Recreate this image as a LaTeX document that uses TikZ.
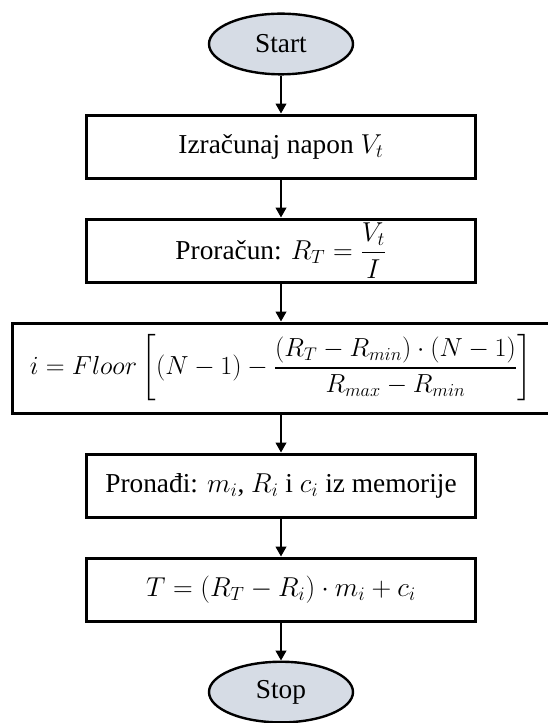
\documentclass[tikz,border=0pt]{standalone}
\usepackage{fix-cm}
\usepackage{amsmath}
\usepackage{fontspec}
\setmainfont{Liberation Serif}
\usepackage{tikz}
\usetikzlibrary{arrows.meta}
\usetikzlibrary{positioning, shapes.geometric}
\definecolor{termfill}{HTML}{D6DCE5}

\begin{document}
\begin{tikzpicture}[
    node distance=28.5pt,
    every node/.style={font=\fontsize{20.5}{24}\selectfont},
    terminal/.style={ellipse, draw, line width=1.8pt, fill=termfill,
        minimum width=108pt, minimum height=45.5pt, inner sep=0pt},
    process/.style={rectangle, draw, line width=2.25pt,
        minimum width=291pt, minimum height=47.25pt, inner sep=1pt},
    flow/.style={-{Triangle[length=7.5pt,width=8pt]}, line width=1.5pt}
]
    \useasboundingbox (-210.75pt,33pt) rectangle (199.5pt,-509.25pt);

    \node[terminal] (start) {Start};
    \node[process, below=of start] (napon) {Izračunaj napon $V_t$};
    \node[process, below=of napon] (otpor) {Proračun: $R_T = \dfrac{V_t}{I}$};
    \node[process, below=of otpor, minimum width=403pt, minimum height=67.5pt,
        font=\fontsize{19.6}{23}\selectfont] (indeks)
        {$i = \mathnormal{Floor}\left[(N-1) - \dfrac{(R_T - R_{min})\cdot(N-1)}{R_{max} - R_{min}}\right]$};
    \node[process, below=of indeks] (memorija) {Pronađi: $m_i$, $R_i$ i $c_i$ iz memorije};
    \node[process, below=of memorija] (temp) {$T = (R_T - R_i)\cdot m_i + c_i$};
    \node[terminal, below=of temp] (stop) {Stop};

    \draw[flow] (start) -- (napon);     % Start -> napon
    \draw[flow] (napon) -- (otpor);     % napon -> otpor
    \draw[flow] (otpor) -- (indeks);    % otpor -> indeks
    \draw[flow] (indeks) -- (memorija); % indeks -> memorija
    \draw[flow] (memorija) -- (temp);   % memorija -> temperatura
    \draw[flow] (temp) -- (stop);       % temperatura -> Stop
\end{tikzpicture}
\end{document}
